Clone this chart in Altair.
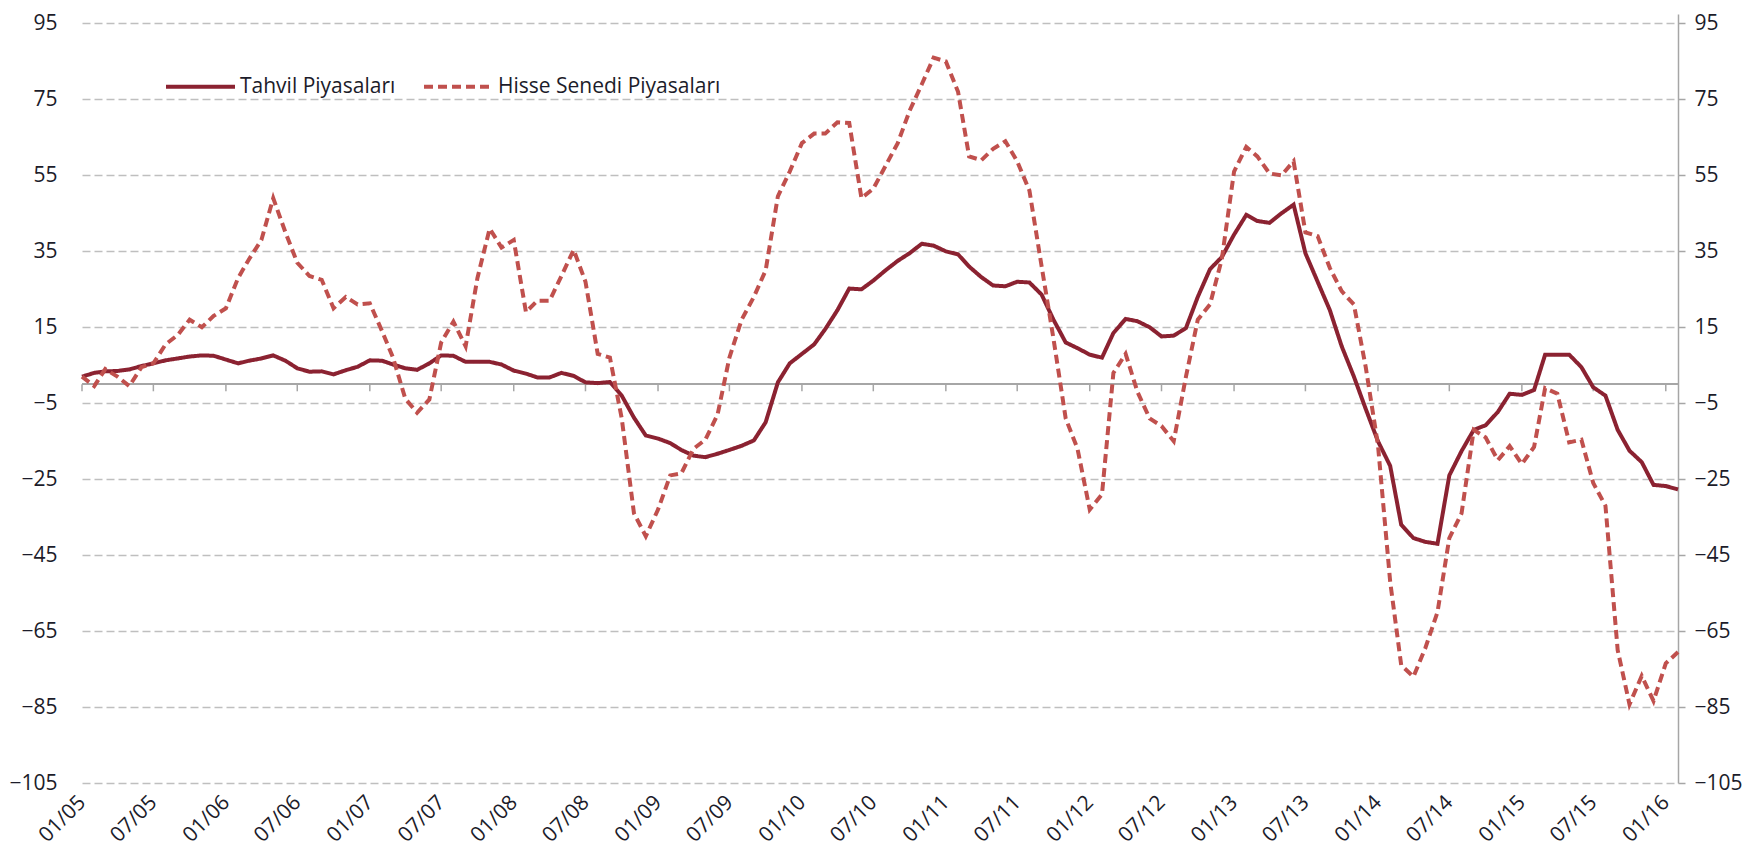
import altair as alt
import pandas as pd

SERIES = ["Tahvil Piyasaları", "Hisse Senedi Piyasaları"]
COLORS = ["#8B2231", "#C0504D"]
DASHES = [[1, 0], [9, 5]]

DATES = pd.date_range("2005-01-01", periods=134, freq="MS").strftime("%Y-%m-%d").tolist()

TAHVIL = [
    2.0, 3.0, 3.4, 3.5, 3.9, 4.8, 5.5, 6.3, 6.8, 7.3, 7.6, 7.5,            # 2005
    6.5, 5.5, 6.2, 6.8, 7.6, 6.2, 4.2, 3.3, 3.4, 2.6, 3.7, 4.6,            # 2006
    6.3, 6.2, 5.2, 4.2, 3.8, 5.5, 7.6, 7.5, 5.9, 5.9, 5.9, 5.2,            # 2007
    3.6, 2.8, 1.8, 1.8, 3.0, 2.2, 0.5, 0.3, 0.6, -3.0, -8.8, -13.5,        # 2008
    -14.3, -15.5, -17.3, -18.8, -19.2, -18.3, -17.3, -16.2, -14.8, -10.0, 0.5, 5.5,  # 2009
    8.0, 10.5, 14.5, 19.5, 25.2, 25.0, 27.3, 30.0, 32.5, 34.5, 37.0, 36.5,  # 2010
    35.0, 34.2, 31.0, 28.2, 26.0, 25.8, 27.0, 26.8, 23.6, 17.0, 11.0, 9.5,  # 2011
    7.8, 7.0, 13.5, 17.2, 16.6, 15.0, 12.6, 12.8, 14.8, 23.0, 30.3, 33.5,   # 2012
    39.4, 44.6, 43.0, 42.5, 45.0, 47.3, 34.5, 27.0, 19.5, 10.0, 2.0, -6.5,  # 2013
    -15.0, -21.5, -37.0, -40.5, -41.5, -42.0, -24.0, -17.6, -12.0, -10.8, -7.3, -2.5,  # 2014
    -2.8, -1.5, 7.8, 7.8, 7.8, 4.5, -0.8, -3.0, -12.0, -17.5, -20.5, -26.5,  # 2015
    -26.8, -27.7,                                                           # 2016
]

HISSE = [
    2.0, -0.5, 4.0, 2.0, -0.5, 4.5, 5.5, 10.5, 13.0, 17.0, 15.0, 18.0,      # 2005
    20.0, 28.0, 33.0, 38.0, 49.0, 40.0, 32.0, 28.5, 27.5, 20.0, 23.0, 21.0, # 2006
    21.3, 14.0, 7.0, -3.8, -7.5, -4.0, 11.0, 16.5, 10.0, 28.0, 41.0, 36.0,  # 2007
    38.0, 19.0, 22.0, 22.0, 28.5, 35.4, 27.0, 8.0, 7.0, -9.0, -34.0, -40.0, # 2008
    -33.0, -24.0, -23.5, -17.0, -14.6, -8.0, 7.0, 17.0, 23.0, 30.0, 49.5, 56.0,  # 2009
    63.5, 66.0, 66.0, 69.0, 68.8, 49.0, 51.5, 57.5, 63.5, 72.0, 79.0, 86.0, # 2010
    85.0, 77.0, 60.0, 59.0, 62.0, 64.0, 58.7, 51.0, 31.0, 12.0, -9.0, -17.0, # 2011
    -33.0, -29.0, 3.0, 8.0, -2.0, -9.0, -11.0, -15.0, 2.0, 17.0, 21.0, 33.0, # 2012
    56.0, 62.5, 60.0, 55.5, 55.0, 58.7, 40.0, 39.0, 30.6, 24.5, 21.0, 4.5,  # 2013
    -16.0, -52.0, -74.0, -77.0, -69.5, -60.0, -40.5, -34.0, -12.0, -14.0, -20.0, -16.3,  # 2014
    -21.0, -16.5, -1.0, -2.5, -15.3, -14.6, -26.0, -32.0, -70.0, -84.3, -76.8, -83.4,  # 2015
    -73.5, -70.5,                                                           # 2016
]

Y_TICKS = list(range(-105, 96, 20))
X_TICK_DATES = [f"{y}-{m:02d}-01" for y in range(2005, 2017) for m in (1, 7)][:23]

TEXT = "#1C1C2A"
AXIS_GRAY = "#A6A6A6"
FONT = "Open Sans"
FONT_SIZE = 21


def ms(s):
    return int(pd.Timestamp(s, tz="UTC").value // 10**6)


df = pd.DataFrame({
    "date": DATES * 2,
    "value": TAHVIL + HISSE,
    "series": [SERIES[0]] * len(DATES) + [SERIES[1]] * len(DATES),
})
ticks_df = pd.DataFrame({"d": X_TICK_DATES})

xscale = alt.Scale(type="utc", domain=[ms(DATES[0]), ms(DATES[-1])])
yscale = alt.Scale(domain=[-105, 97.5], nice=False, zero=False)

legend = alt.Legend(
    orient="none", legendX=82, legendY=36, direction="horizontal", title=None,
    symbolType="stroke", symbolSize=4761, symbolStrokeWidth=4,
    labelFont=FONT, labelFontSize=FONT_SIZE, labelColor=TEXT, labelOffset=3,
    columnPadding=20, labelLimit=400,
)

x_axis = alt.Axis(
    values=[ms(s) for s in X_TICK_DATES], labelExpr="utcFormat(datum.value, '%m/%y')",
    labelAngle=-45, labelAlign="right", labelBaseline="middle", labelPadding=16,
    labelFlush=False, labelOverlap=False, domain=False, ticks=False, tickSize=0,
    grid=False, title=None,
)
left_axis = alt.Axis(
    values=Y_TICKS, grid=True, gridDash=[8, 4], gridColor="#BFBFBF", gridWidth=1.3,
    domain=False, ticks=False, tickSize=0, labelPadding=25, title=None,
    minExtent=67, maxExtent=67,
)
right_axis = alt.Axis(
    orient="right", values=Y_TICKS, grid=False, domain=True, domainColor=AXIS_GRAY,
    domainWidth=1.5, ticks=True, tickColor=AXIS_GRAY, tickSize=7, tickWidth=1.5,
    labelPadding=9, title=None,
)

color_enc = alt.Color("series:N", scale=alt.Scale(domain=SERIES, range=COLORS), legend=legend)
dash_enc = alt.StrokeDash("series:N", scale=alt.Scale(domain=SERIES, range=DASHES), legend=legend)

line_t = alt.Chart(df).transform_filter(alt.datum.series == SERIES[0]).mark_line(strokeWidth=4).encode(
    x=alt.X("date:T", scale=xscale, axis=x_axis),
    y=alt.Y("value:Q", scale=yscale, axis=left_axis),
    color=color_enc,
    strokeDash=dash_enc,
)
line_h = alt.Chart(df).transform_filter(alt.datum.series == SERIES[1]).mark_line(strokeWidth=4).encode(
    x=alt.X("date:T", scale=xscale, axis=x_axis),
    y=alt.Y("value:Q", scale=yscale, axis=right_axis),
    color=color_enc,
    strokeDash=dash_enc,
)

zero_rule = alt.Chart(ticks_df).mark_rule(color=AXIS_GRAY, strokeWidth=1.5).encode(
    y=alt.YDatum(0, axis=None, scale=yscale),
)
tick_rules = alt.Chart(ticks_df).mark_rule(color=AXIS_GRAY, strokeWidth=1.5).encode(
    x=alt.X("d:T", scale=xscale, axis=x_axis),
    y=alt.YDatum(0, axis=None),
    y2=alt.datum(-1.85),
)

chart = (
    alt.layer(zero_rule, tick_rules, line_t, line_h)
    .resolve_axis(y="independent")
    .resolve_scale(y="shared", x="shared")
    .properties(width=1596, height=769, padding={"top": 4, "left": 0, "right": 0, "bottom": 0})
    .configure_view(stroke=None)
    .configure_axis(labelFont=FONT, labelFontSize=FONT_SIZE, labelColor=TEXT)
)

chart.save("out.html", embed_options={"renderer": "svg", "actions": False})
